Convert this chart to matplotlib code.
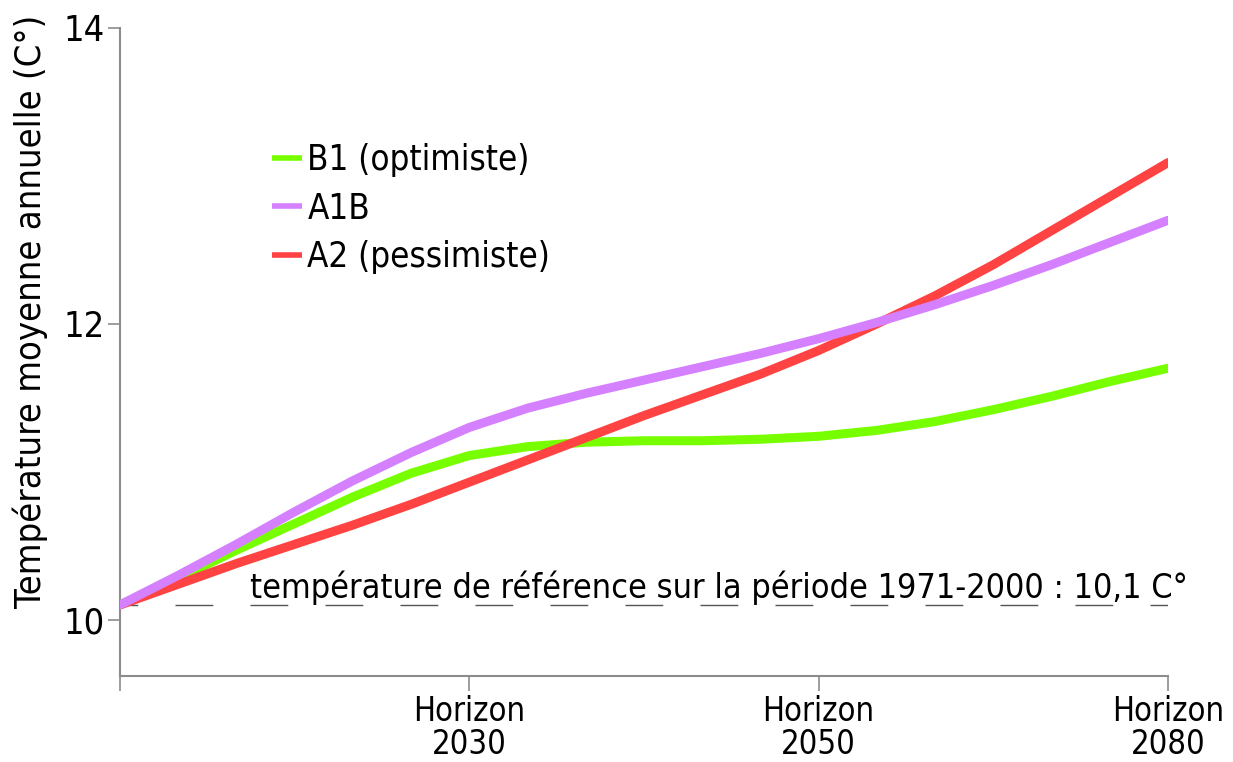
import numpy as np
import matplotlib
matplotlib.use("Agg")
import matplotlib.pyplot as plt

plt.rcParams['font.family'] = ['DejaVu Sans']
plt.rcParams['font.stretch'] = 'condensed'

# positions along the time axis: 0 = 1971-2000 reference, 1/2/3 = horizons
t = np.arange(19) / 6.0
horizon_pos = [0, 1, 2, 3]
horizon_labels = ["", "Horizon\n2030", "Horizon\n2050", "Horizon\n2080"]

# mean annual temperature (°C) per scenario
b1 = [10.10, 10.28, 10.47, 10.65, 10.83, 10.99, 11.11, 11.17, 11.20, 11.21,
      11.21, 11.22, 11.24, 11.28, 11.34, 11.42, 11.51, 11.61, 11.70]
a1b = [10.10, 10.30, 10.51, 10.73, 10.94, 11.13, 11.30, 11.43, 11.53, 11.62,
       11.71, 11.80, 11.90, 12.01, 12.13, 12.26, 12.40, 12.55, 12.70]
a2 = [10.10, 10.24, 10.38, 10.51, 10.64, 10.78, 10.93, 11.08, 11.23, 11.38,
      11.52, 11.66, 11.82, 12.00, 12.19, 12.40, 12.63, 12.86, 13.09]
reference = 10.1

fig = plt.figure(figsize=(12.33, 7.62), dpi=100)
ax = fig.add_axes([0.0973, 0.1129, 0.85, 0.8504])

ax.plot(t, b1, color="#77ff00", lw=6.5, solid_capstyle="round",
        solid_joinstyle="round", label="B1 (optimiste)", zorder=3)
ax.plot(t, a1b, color="#d580ff", lw=6.5, solid_capstyle="round",
        solid_joinstyle="round", label="A1B", zorder=4)
ax.plot(t, a2, color="#ff4242", lw=6.5, solid_capstyle="round",
        solid_joinstyle="round", label="A2 (pessimiste)", zorder=3)

# reference line
ax.plot([0, 3], [reference, reference], color="#555555", lw=1.0,
        linestyle=(14.4, (27.2, 26.8)), zorder=1)
ax.text(0.372, 10.15, "température de référence sur la période 1971-2000 : 10,1 C°",
        fontsize=24.5, ha="left", va="baseline", color="black", clip_on=False)

ax.set_xlim(0, 3)
ax.set_ylim(9.62, 14)
ax.set_yticks([10, 12, 14])
ax.set_xticks(horizon_pos)
ax.set_xticklabels(horizon_labels)
ax.tick_params(axis="y", labelsize=26, length=9, width=1.2, color="#8c8c8c", pad=2)
ax.tick_params(axis="x", labelsize=23.5, length=11, width=1.2, color="#8c8c8c", pad=3)
for lbl in ax.get_xticklabels():
    lbl.set_linespacing(1.0)

for s in ["top", "right"]:
    ax.spines[s].set_visible(False)
for s in ["left", "bottom"]:
    ax.spines[s].set_color("#8c8c8c")
    ax.spines[s].set_linewidth(1.5)

ax.set_ylabel("Température moyenne annuelle (C°)", fontsize=26)
ax.yaxis.set_label_coords(-0.069, 0.562)

leg = ax.legend(loc="upper left", bbox_to_anchor=(0.145, 0.8225), frameon=False,
                fontsize=25, handlelength=0.87, handletextpad=0.15, labelspacing=0.42,
                borderpad=0, borderaxespad=0)
for line in leg.get_lines():
    line.set_linewidth(4)
    line.set_solid_capstyle("butt")

fig.savefig("out.png", dpi=100)
